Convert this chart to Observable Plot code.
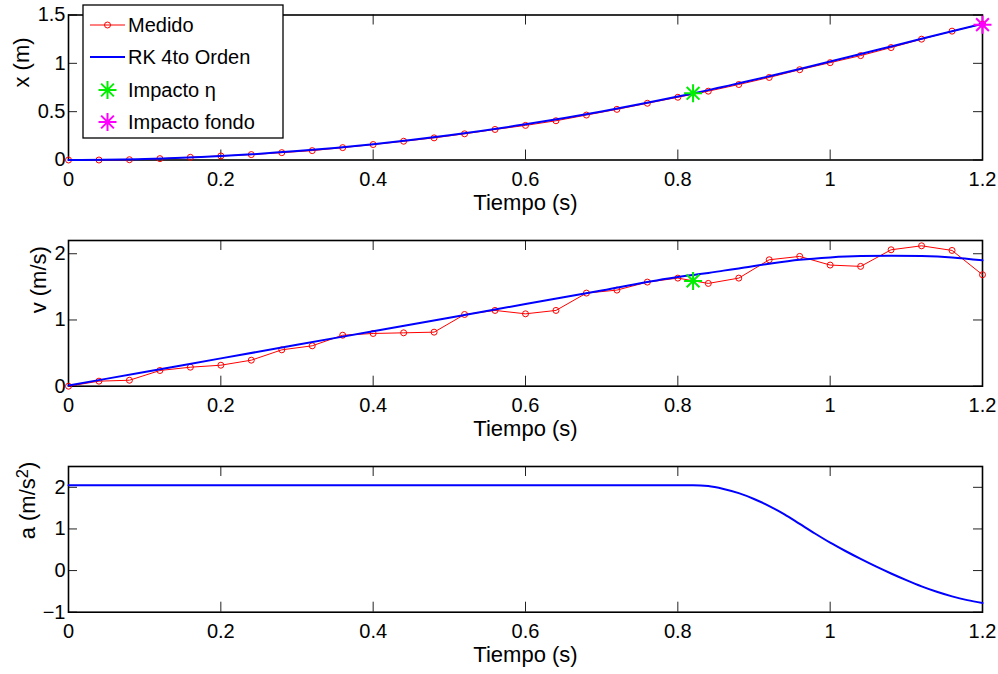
<!DOCTYPE html>
<html>
<head>
<meta charset="utf-8">
<script src="https://cdn.jsdelivr.net/npm/d3@7"></script>
<script src="https://cdn.jsdelivr.net/npm/@observablehq/plot@0.6"></script>
<style>
  html, body { margin: 0; padding: 0; background: #fff; }
  #chart { position: relative; width: 998px; height: 674px; overflow: hidden; background: #fff;
           font-family: "Liberation Sans", Arial, Helvetica, sans-serif; }
  #chart > svg, #chart > figure { position: absolute; left: 0; margin: 0; }
</style>
</head>
<body>
<div id="chart"></div>
<script>
// ---------------- data ----------------
const tiempoTicks = [0, 0.2, 0.4, 0.6, 0.8, 1, 1.2];
const xTicks = [0, 0.5, 1, 1.5];
const vTicks = [0, 1, 2];
const aTicks = [-1, 0, 1, 2];

// measured samples (every 0.04 s)
const tiempoMedido = [0, 0.04, 0.08, 0.12, 0.16, 0.20, 0.24, 0.28, 0.32, 0.36, 0.40, 0.44, 0.48, 0.52,
  0.56, 0.60, 0.64, 0.68, 0.72, 0.76, 0.80, 0.84, 0.88, 0.92, 0.96, 1.00, 1.04, 1.08, 1.12, 1.16, 1.20];
const xMedido = [0, 0, 0.003, 0.014, 0.028, 0.042, 0.056, 0.076, 0.097, 0.128, 0.160, 0.194, 0.229, 0.271,
  0.316, 0.358, 0.406, 0.465, 0.524, 0.587, 0.649, 0.712, 0.781, 0.854, 0.934, 1.007, 1.080, 1.163, 1.250, 1.333, 1.406];
const vMedido = [0, 0.076, 0.090, 0.237, 0.287, 0.317, 0.393, 0.549, 0.610, 0.770, 0.796, 0.806, 0.816, 1.083,
  1.144, 1.093, 1.144, 1.406, 1.451, 1.572, 1.632, 1.552, 1.632, 1.909, 1.960, 1.829, 1.809, 2.060, 2.120, 2.050, 1.683];

// RK 4th order solution: position and velocity
const tiempoRK = [0, 0.1, 0.2, 0.3, 0.4, 0.5, 0.6, 0.7, 0.8, 0.82, 0.84, 0.86, 0.88, 0.92, 0.96, 1.00, 1.04, 1.08, 1.12, 1.16, 1.20];
const xRK = [0, 0.010, 0.041, 0.092, 0.164, 0.256, 0.369, 0.502, 0.656, 0.689, 0.723, 0.758, 0.793, 0.866, 0.941, 1.018, 1.096, 1.175, 1.254, 1.332, 1.409];
const vRK = [0.01, 0.215, 0.42, 0.625, 0.83, 1.035, 1.24, 1.445, 1.65, 1.68, 1.71, 1.745, 1.778, 1.849, 1.909, 1.945, 1.965, 1.970, 1.965, 1.945, 1.900];

// RK 4th order solution: acceleration
const tiempoA = [0, 0.4, 0.78, 0.80, 0.82, 0.84, 0.86, 0.88, 0.90, 0.92, 0.94, 0.96, 0.98, 1.00,
  1.02, 1.04, 1.06, 1.08, 1.10, 1.12, 1.14, 1.16, 1.18, 1.20];
const aRK = [2.05, 2.05, 2.05, 2.05, 2.05, 2.03, 1.96, 1.86, 1.72, 1.55, 1.35, 1.12, 0.89, 0.67,
  0.47, 0.28, 0.10, -0.07, -0.23, -0.38, -0.51, -0.62, -0.71, -0.78];

// impact markers
const impactoEtaT = [0.82];
const impactoEtaX = [0.69];
const impactoEtaV = [1.59];
const impactoFondoT = [1.2];
const impactoFondoX = [1.40];

const legendLabels = ["Medido", "RK 4to Orden", "Impacto \u03b7", "Impacto fondo"];
const colors = {medido: "#ff0000", rk: "#0000ff", eta: "#00ee00", fondo: "#ff00ff"};

// ---------------- helpers ----------------
const fmt = d => (d < 0 ? "\u2212" : "") + Math.abs(d);
const star8 = {
  draw(ctx, size) {
    const r = Math.sqrt(size / Math.PI), d = r * Math.SQRT1_2;
    ctx.moveTo(-r, 0); ctx.lineTo(r, 0);
    ctx.moveTo(0, -r); ctx.lineTo(0, r);
    ctx.moveTo(-d, -d); ctx.lineTo(d, d);
    ctx.moveTo(-d, d); ctx.lineTo(d, -d);
  }
};
const zip = (ts, ys) => ts.map((t, i) => ({t, y: ys[i]}));

const W = 998, ML = 68, MR = 16;
const FONT = "'Liberation Sans', Arial, Helvetica, sans-serif";

function panel({top, height, mTop, mBottom, yDomain, yTicks, yLabel, yLabelX, marks}) {
  const ph = height - mTop - mBottom, pw = W - ML - MR;
  const tl = 10;
  const p = Plot.plot({
    width: W, height,
    marginLeft: ML, marginRight: MR, marginTop: mTop, marginBottom: mBottom,
    style: {fontFamily: FONT, fontSize: "20px", color: "#000", background: "transparent", overflow: "visible"},
    x: {domain: [0, 1.2], label: null},
    y: {domain: yDomain, label: null},
    marks: [
      Plot.tickX(tiempoTicks, {x: d => d, insetTop: ph - tl, stroke: "#222", strokeWidth: 1}),
      Plot.tickX(tiempoTicks, {x: d => d, insetBottom: ph - tl, stroke: "#222", strokeWidth: 1}),
      Plot.tickY(yTicks, {y: d => d, insetRight: pw - 9, stroke: "#222", strokeWidth: 1}),
      Plot.tickY(yTicks, {y: d => d, insetLeft: pw - 9, stroke: "#222", strokeWidth: 1}),
      Plot.frame({stroke: "#000", strokeWidth: 1.6}),
      Plot.axisX(tiempoTicks, {tickSize: 0, tickPadding: 12, tickFormat: fmt, fontSize: 20, label: null}),
      Plot.axisY(yTicks, {tickSize: 0, tickPadding: 3, tickFormat: fmt, fontSize: 20, label: null}),
      Plot.text([yLabel], {frameAnchor: "left", dx: yLabelX - ML, rotate: -90, fontSize: 22, lineAnchor: "middle", text: d => d}),
      Plot.text(["Tiempo (s)"], {frameAnchor: "bottom", dy: 42.5, fontSize: 22, lineAnchor: "middle", text: d => d}),
      ...marks
    ]
  });
  p.style.top = top + "px";
  document.getElementById("chart").appendChild(p);
  return p;
}

// ---------------- panel 1: x(t) ----------------
panel({
  top: 0, height: 225, mTop: 14.5, mBottom: 65.5,
  yDomain: [0, 1.5], yTicks: xTicks, yLabel: "x (m)", yLabelX: 21,
  marks: [
    Plot.line(zip(tiempoMedido, xMedido), {x: "t", y: "y", stroke: colors.medido, strokeWidth: 1}),
    Plot.dot(zip(tiempoMedido, xMedido), {x: "t", y: "y", r: 3, stroke: colors.medido, fill: "none", strokeWidth: 1}),
    Plot.line(zip(tiempoRK, xRK), {x: "t", y: "y", stroke: colors.rk, strokeWidth: 2, curve: "monotone-x"}),
    Plot.dot(zip(impactoEtaT, impactoEtaX), {x: "t", y: "y", symbol: star8, r: 9, stroke: colors.eta, strokeWidth: 2}),
    Plot.dot(zip(impactoFondoT, impactoFondoX), {x: "t", y: "y", symbol: star8, r: 9, stroke: colors.fondo, strokeWidth: 2})
  ]
});

// ---------------- panel 2: v(t) ----------------
panel({
  top: 225, height: 225, mTop: 15, mBottom: 64.3,
  yDomain: [0, 2.2], yTicks: vTicks, yLabel: "v (m/s)", yLabelX: 38,
  marks: [
    Plot.line(zip(tiempoMedido, vMedido), {x: "t", y: "y", stroke: colors.medido, strokeWidth: 1}),
    Plot.dot(zip(tiempoMedido, vMedido), {x: "t", y: "y", r: 3, stroke: colors.medido, fill: "none", strokeWidth: 1}),
    Plot.line(zip(tiempoRK, vRK), {x: "t", y: "y", stroke: colors.rk, strokeWidth: 2, curve: "monotone-x"}),
    Plot.dot(zip(impactoEtaT, impactoEtaV), {x: "t", y: "y", symbol: star8, r: 9, stroke: colors.eta, strokeWidth: 2})
  ]
});

// ---------------- panel 3: a(t) ----------------
const p3 = panel({
  top: 450, height: 224, mTop: 16, mBottom: 62.3,
  yDomain: [-1, 2.5], yTicks: aTicks, yLabel: "a (m/s2)", yLabelX: 27,
  marks: [
    Plot.line(zip(tiempoA, aRK), {x: "t", y: "y", stroke: colors.rk, strokeWidth: 2, curve: "monotone-x"})
  ]
});
// raise the exponent of the unit label
d3.select(p3).selectAll("text").filter(function () { return this.textContent === "a (m/s2)"; })
  .each(function () {
    const t = d3.select(this);
    t.text(null);
    t.append("tspan").text("a (m/s");
    t.append("tspan").attr("dy", "-0.4em").attr("font-size", "0.75em").text("2");
    t.append("tspan").attr("dy", "0.3em").text(")");
  });

// ---------------- legend (panel 1) ----------------
(function legend() {
  const svg = d3.create("svg")
    .attr("width", 202).attr("height", 135)
    .style("position", "absolute").style("left", "82px").style("top", "4px").style("overflow", "visible");
  svg.append("rect").attr("x", 1).attr("y", 1).attr("width", 200).attr("height", 133)
    .attr("fill", "#fff").attr("stroke", "#000").attr("stroke-width", 1.3);
  const rows = [21, 53, 86, 118];
  const sym = d3.symbol().type(star8).size(Math.PI * 81);
  legendLabels.forEach((label, i) => {
    const g = svg.append("g").attr("transform", `translate(0,${rows[i]})`);
    if (i === 0) {
      g.append("line").attr("x1", 8).attr("x2", 43).attr("stroke", colors.medido).attr("stroke-width", 1);
      g.append("circle").attr("cx", 25.5).attr("r", 3).attr("fill", "none").attr("stroke", colors.medido);
    } else if (i === 1) {
      g.append("line").attr("x1", 8).attr("x2", 43).attr("stroke", colors.rk).attr("stroke-width", 2);
    } else {
      g.append("path").attr("d", sym()).attr("transform", "translate(25.5,0)")
        .attr("fill", "none").attr("stroke", i === 2 ? colors.eta : colors.fondo).attr("stroke-width", 2);
    }
    g.append("text").attr("x", 46).attr("y", 0).attr("dy", "0.35em")
      .attr("font-family", FONT).attr("font-size", 20).attr("fill", "#000").text(label);
  });
  document.getElementById("chart").appendChild(svg.node());
})();
</script>
</body>
</html>
